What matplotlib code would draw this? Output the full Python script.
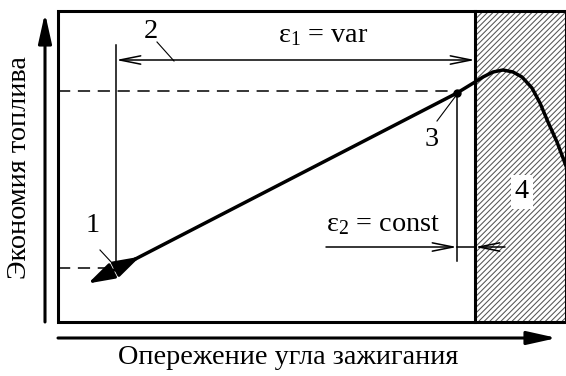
"""
Схема: экономия топлива в зависимости от опережения угла зажигания.
Рисуем в пиксельных координатах схемы (x вправо, y вниз).
"""

import numpy as np
import matplotlib.pyplot as plt
from matplotlib import rcParams
from matplotlib.patches import Rectangle

rcParams['font.family']      = 'Liberation Serif'
rcParams['mathtext.fontset'] = 'custom'
rcParams['mathtext.rm']      = 'Liberation Serif'
rcParams['mathtext.it']      = 'Liberation Serif:italic'
rcParams['hatch.linewidth']  = 0.75

FS   = 20.3
THIN = 1.1
BOLD = 2.5

# ── данные схемы ──────────────────────────────────────────────────────────────
box_x      = [58, 566]          # рамка графика
box_y      = [11, 322]
zone_x     = 475                # граница зоны детонации (4)
pt1        = [118, 268]         # точка 1
pt3        = [457, 93]          # точка 3
curve_x    = [457, 475, 483, 493, 503, 513, 522, 532, 540, 548, 557, 563, 566]
curve_y    = [93, 82, 77, 72, 70, 72, 77, 88, 103, 122, 142, 158, 166]
eps1_y     = 60
eps2_y     = 247
eps2_left  = 326
eps2_right = 505

fig = plt.figure(figsize=(5.66, 3.76), dpi=100)
ax = fig.add_axes([0, 0, 1, 1])
ax.set_xlim(0, 566)
ax.set_ylim(376, 0)
ax.axis('off')

# ── зона 4 (штриховка) и рамка ────────────────────────────────────────────────
ax.add_patch(Rectangle((zone_x, box_y[0]), box_x[1] - zone_x, box_y[1] - box_y[0],
                       facecolor='white', edgecolor='#555555', hatch='//////',
                       linewidth=0, zorder=1))
ax.add_patch(Rectangle((box_x[0], box_y[0]), box_x[1] - box_x[0], box_y[1] - box_y[0],
                       facecolor='none', edgecolor='black', linewidth=2.2, zorder=2))
ax.plot([zone_x, zone_x], box_y, color='black', lw=2.2, zorder=2)

# ── оси со стрелками ──────────────────────────────────────────────────────────
ax.annotate('', xy=(45, 13), xytext=(45, 322),
            arrowprops=dict(arrowstyle='-|>,head_length=1.8,head_width=0.4',
                            lw=2.2, color='black', shrinkA=0, shrinkB=0,
                            mutation_scale=10))
ax.annotate('', xy=(557, 338), xytext=(58, 338),
            arrowprops=dict(arrowstyle='-|>,head_length=1.8,head_width=0.4',
                            lw=2.2, color='black', shrinkA=0, shrinkB=0,
                            mutation_scale=10))
ax.text(20, 168, 'Экономия топлива', rotation=90, ha='center', va='center',
        fontsize=FS)
ax.text(288, 357, 'Опережение угла зажигания', ha='center', va='center',
        fontsize=FS)

# ── пунктирные уровни ─────────────────────────────────────────────────────────
ax.plot([box_x[0], pt1[0]], [pt1[1], pt1[1]], color='black', lw=THIN,
        linestyle=(0, (8, 5)), zorder=3)
ax.plot([box_x[0], pt3[0]], [pt3[1] - 2, pt3[1] - 2], color='black', lw=THIN,
        linestyle=(0, (8, 5)), zorder=3)

# ── вертикальные выносные линии ───────────────────────────────────────────────
ax.plot([pt1[0] - 2, pt1[0] - 2], [45, pt1[1]], color='black', lw=THIN, zorder=3)
ax.plot([pt3[0], pt3[0]], [pt3[1], 261], color='black', lw=THIN, zorder=3)

# ── характеристика ────────────────────────────────────────────────────────────
ax.plot([pt1[0], pt3[0]], [pt1[1], pt3[1]], color='black', lw=BOLD,
        solid_capstyle='butt', zorder=4)
ax.plot(curve_x, curve_y, color='black', lw=BOLD, solid_joinstyle='round',
        zorder=4)
ax.plot([pt1[0], pt3[0]], [pt1[1], pt3[1]], 'o', color='black',
        markersize=5, zorder=5)

# двойная стрелка в точке 1
slope = (pt3[1] - pt1[1]) / (pt3[0] - pt1[0])
ax.annotate('', xy=(pt1[0] - 30, pt1[1] - 30 * slope),
            xytext=(pt1[0] + 22, pt1[1] + 22 * slope),
            arrowprops=dict(arrowstyle='<|-|>,head_length=1.6,head_width=0.5',
                            lw=2.2, color='black', shrinkA=0, shrinkB=0,
                            mutation_scale=10), zorder=5)

# ── ε1 = var ──────────────────────────────────────────────────────────────────
ax.annotate('', xy=(zone_x, eps1_y), xytext=(pt1[0] - 2, eps1_y),
            arrowprops=dict(arrowstyle='<->,head_length=1.5,head_width=0.3',
                            lw=THIN, color='black', shrinkA=0, shrinkB=0,
                            mutation_scale=10))
ax.text(323, 36, r'$\mathrm{ε}_1$ = var', ha='center', va='center', fontsize=FS)

# ── ε2 = const ────────────────────────────────────────────────────────────────
ax.annotate('', xy=(pt3[0], eps2_y), xytext=(eps2_left, eps2_y),
            arrowprops=dict(arrowstyle='->,head_length=1.5,head_width=0.3',
                            lw=THIN, color='black', shrinkA=0, shrinkB=0,
                            mutation_scale=10), zorder=3)
ax.annotate('', xy=(zone_x, eps2_y), xytext=(eps2_right, eps2_y),
            arrowprops=dict(arrowstyle='->,head_length=1.5,head_width=0.3',
                            lw=THIN, color='black', shrinkA=0, shrinkB=0,
                            mutation_scale=10), zorder=3)
ax.plot([pt3[0], zone_x], [eps2_y, eps2_y], color='black', lw=THIN, zorder=3)
ax.text(383, 225, r'$\mathrm{ε}_2$ = const', ha='center', va='center', fontsize=FS)

# ── номера позиций ────────────────────────────────────────────────────────────
ax.text(93, 226, '1', ha='center', va='center', fontsize=FS)
ax.plot([100, 113], [250, 264], color='black', lw=0.8)
ax.text(151, 31, '2', ha='center', va='center', fontsize=FS)
ax.plot([157, 174], [42, 61], color='black', lw=0.8)
ax.text(432, 139, '3', ha='center', va='center', fontsize=FS)
ax.plot([437, 455], [121, 97], color='black', lw=0.8)
ax.text(522, 192, '4', ha='center', va='center', fontsize=FS, zorder=6,
        bbox=dict(facecolor='white', edgecolor='none', pad=3))

plt.savefig('out.png', dpi=100)
